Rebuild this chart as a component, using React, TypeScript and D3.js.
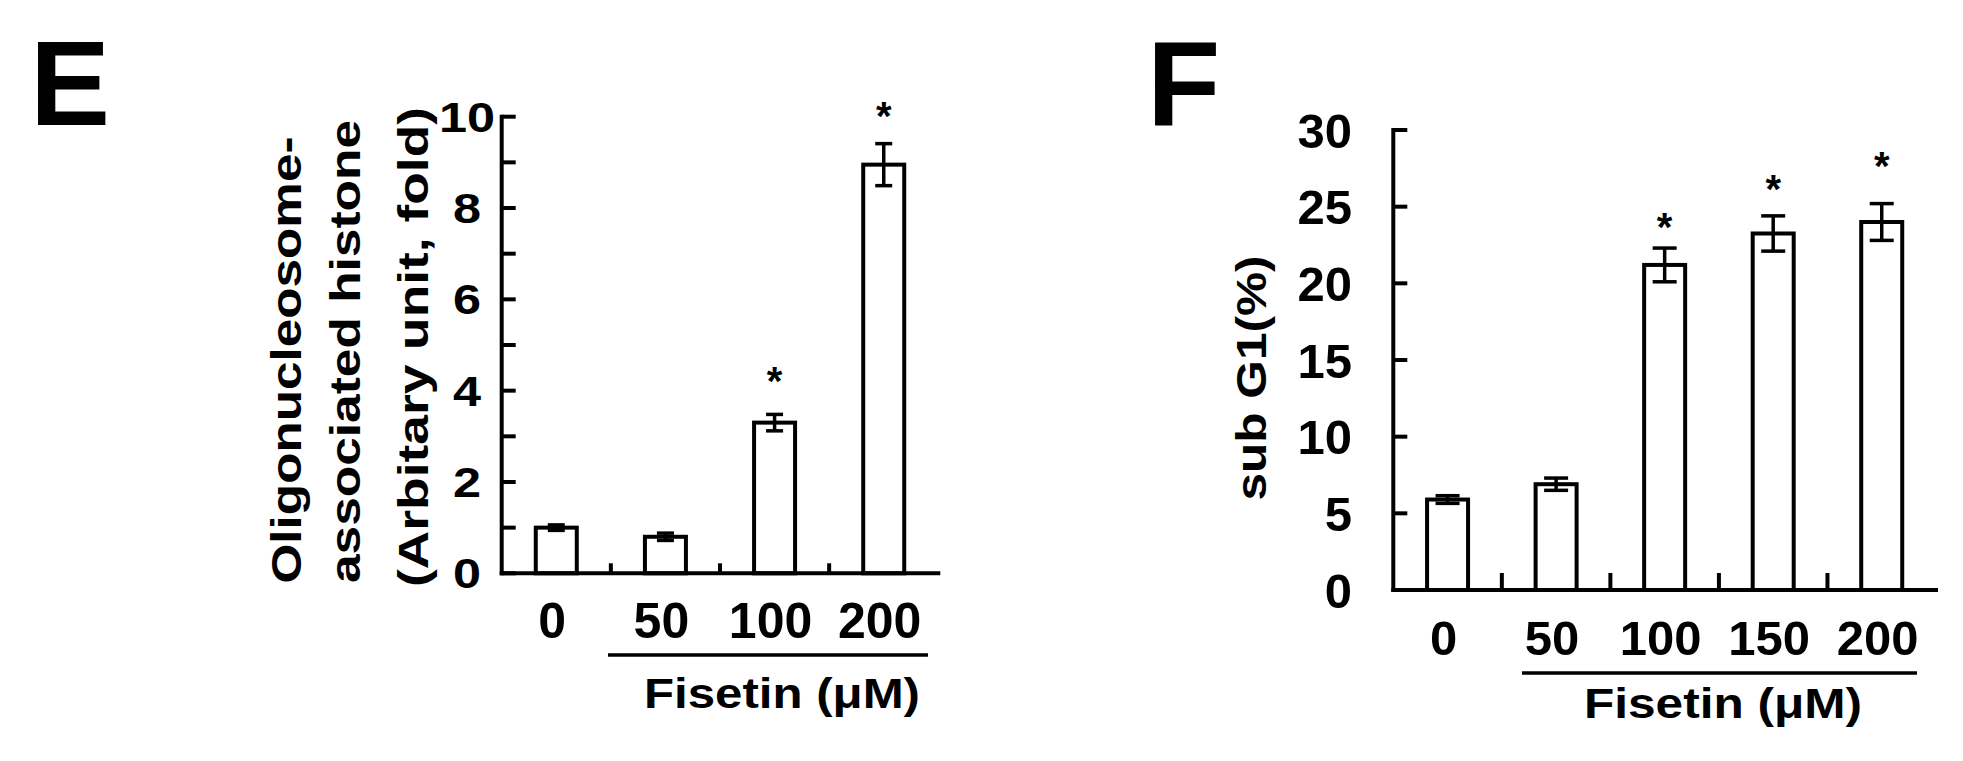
import React from "react";
import * as d3 from "d3";

// ---------- Data ----------
const E_DOSES = ["0", "50", "100", "200"];
const E_VALUES = [1.0, 0.8, 3.3, 8.95];
const E_ERRORS = [0.06, 0.08, 0.18, 0.46];
const E_STARS: (number | null)[] = [null, null, 4.39, 10.19];
const E_YTICKS = [0, 1, 2, 3, 4, 5, 6, 7, 8, 9, 10];
const E_YLABELS = [0, 2, 4, 6, 8, 10];
const E_TITLE = ["Oligonucleosome-", "associated histone", "(Arbitary unit, fold)"];

const F_DOSES = ["0", "50", "100", "150", "200"];
const F_VALUES = [5.9, 6.9, 21.2, 23.25, 24.0];
const F_ERRORS = [0.25, 0.4, 1.1, 1.15, 1.2];
const F_STARS: (number | null)[] = [null, null, 24.2, 26.7, 28.15];
const F_YTICKS = [0, 5, 10, 15, 20, 25, 30];
const F_TITLE = "sub G1(%)";

const X_TITLE = "Fisetin (\u03bcM)";

const FONT = "'Liberation Sans', Arial, Helvetica, sans-serif";

type PanelProps = {
  doses: string[];
  values: number[];
  errors: number[];
  stars: (number | null)[];
  yTicks: number[];
  yLabels: number[];
  yMax: number;
  x0: number;
  x1: number;
  yBase: number;
  yTop: number;
  sepTick: number;
  capW: number;
  yLabel: (v: number, y: number) => React.ReactNode;
  xLabelY: number;
  xLabelSize: number;
};

function Panel(p: PanelProps) {
  const x = d3
    .scaleBand<string>()
    .domain(p.doses)
    .range([p.x0, p.x1])
    .paddingInner(1 - 41 / ((p.x1 - p.x0) / p.doses.length))
    .paddingOuter((1 - 41 / ((p.x1 - p.x0) / p.doses.length)) / 2);
  const y = d3.scaleLinear().domain([0, p.yMax]).range([p.yBase, p.yTop]);
  const step = x.step();
  const bw = x.bandwidth();
  return (
    <g>
      {/* bars */}
      {p.doses.map((d, i) => (
        <rect
          key={"b" + d}
          x={x(d)!}
          y={y(p.values[i])}
          width={bw}
          height={y(0) - y(p.values[i])}
          fill="#fff"
          stroke="#000"
          strokeWidth={4}
        />
      ))}
      {/* error bars */}
      {p.doses.map((d, i) => {
        const cx = x(d)! + bw / 2;
        const hi = y(p.values[i] + p.errors[i]);
        const lo = y(p.values[i] - p.errors[i]);
        return (
          <g key={"e" + d} stroke="#000" strokeWidth={3.5}>
            <line x1={cx} x2={cx} y1={hi} y2={lo} />
            <line x1={cx - p.capW / 2} x2={cx + p.capW / 2} y1={hi} y2={hi} />
            <line x1={cx - p.capW / 2} x2={cx + p.capW / 2} y1={lo} y2={lo} />
          </g>
        );
      })}
      {/* stars */}
      {p.doses.map((d, i) =>
        p.stars[i] == null ? null : (
          <text
            key={"s" + d}
            x={x(d)! + bw / 2}
            y={y(p.stars[i] as number) + 22}
            textAnchor="middle"
            fontFamily={FONT}
            fontWeight="bold"
            fontSize={40}
          >
            *
          </text>
        )
      )}
      {/* axes */}
      <line x1={p.x0} x2={p.x0} y1={y(0)} y2={y(p.yMax)} stroke="#000" strokeWidth={4} strokeLinecap="square" />
      <line x1={p.x0} x2={p.x1} y1={y(0)} y2={y(0)} stroke="#000" strokeWidth={4} strokeLinecap="square" />
      {p.yTicks.map((t) => (
        <line key={"yt" + t} x1={p.x0} x2={p.x0 + 14} y1={y(t)} y2={y(t)} stroke="#000" strokeWidth={4} />
      ))}
      {p.doses.slice(1).map((d, i) => (
        <line
          key={"xs" + d}
          x1={p.x0 + step * (i + 1)}
          x2={p.x0 + step * (i + 1)}
          y1={y(0)}
          y2={y(0) - p.sepTick}
          stroke="#000"
          strokeWidth={4}
        />
      ))}
      {p.yLabels.map((t) => (
        <g key={"yl" + t}>{p.yLabel(t, y(t))}</g>
      ))}
      {p.doses.map((d) => (
        <text
          key={"xl" + d}
          x={x(d)! + bw / 2 - 4}
          y={p.xLabelY}
          textAnchor="middle"
          fontFamily={FONT}
          fontWeight="bold"
          fontSize={p.xLabelSize}
        >
          {d}
        </text>
      ))}
    </g>
  );
}

export default function App() {
  return (
    <svg
      width={1963}
      height={761}
      viewBox="0 0 1963 761"
      style={{ position: "absolute", left: 0, top: 0, display: "block", background: "#fff" }}
    >
      <rect x={0} y={0} width={1963} height={761} fill="#fff" />
      {/* Panel letters */}
      <text x={30} y={125} fontFamily={FONT} fontWeight="bold" fontSize={120}>E</text>
      <text x={1147} y={125} fontFamily={FONT} fontWeight="bold" fontSize={120}>F</text>

      {/* Panel E */}
      <Panel
        doses={E_DOSES}
        values={E_VALUES}
        errors={E_ERRORS}
        stars={E_STARS}
        yTicks={E_YTICKS}
        yLabels={E_YLABELS}
        yMax={10}
        x0={501.7}
        x1={938.3}
        yBase={573.3}
        yTop={116.7}
        sepTick={10}
        capW={17}
        xLabelY={638}
        xLabelSize={50}
        yLabel={(v, yy) => (
          <text
            transform={`translate(467,${yy + 15}) scale(1.2,1)`}
            textAnchor="middle"
            fontFamily={FONT}
            fontWeight="bold"
            fontSize={42}
          >
            {v}
          </text>
        )}
      />
      {E_TITLE.map((s, i) => (
        <text
          key={s}
          transform={`translate(${[301, 360, 428][i]},${[360, 351.5, 347][i]}) rotate(-90)`}
          textAnchor="middle"
          fontFamily={FONT}
          fontWeight="bold"
          fontSize={42}
          textLength={[447, 463, 480][i]}
          lengthAdjust="spacingAndGlyphs"
        >
          {s}
        </text>
      ))}
      <line x1={608} x2={928} y1={655} y2={655} stroke="#000" strokeWidth={3.5} />
      <text
        x={782}
        y={708}
        textAnchor="middle"
        fontFamily={FONT}
        fontWeight="bold"
        fontSize={42}
        textLength={276}
        lengthAdjust="spacingAndGlyphs"
      >
        {X_TITLE}
      </text>

      {/* Panel F */}
      <Panel
        doses={F_DOSES}
        values={F_VALUES}
        errors={F_ERRORS}
        stars={F_STARS}
        yTicks={F_YTICKS}
        yLabels={F_YTICKS}
        yMax={30}
        x0={1393.3}
        x1={1936}
        yBase={590}
        yTop={130}
        sepTick={17}
        capW={24}
        xLabelY={655}
        xLabelSize={49}
        yLabel={(v, yy) => (
          <text
            x={1352}
            y={yy + 17.5}
            textAnchor="end"
            fontFamily={FONT}
            fontWeight="bold"
            fontSize={49}
          >
            {v}
          </text>
        )}
      />
      <text
        transform={`translate(1266,378) rotate(-90)`}
        textAnchor="middle"
        fontFamily={FONT}
        fontWeight="bold"
        fontSize={42}
        textLength={245}
        lengthAdjust="spacingAndGlyphs"
      >
        {F_TITLE}
      </text>
      <line x1={1522} x2={1917} y1={673} y2={673} stroke="#000" strokeWidth={3.5} />
      <text
        x={1723}
        y={718}
        textAnchor="middle"
        fontFamily={FONT}
        fontWeight="bold"
        fontSize={42}
        textLength={278}
        lengthAdjust="spacingAndGlyphs"
      >
        {X_TITLE}
      </text>
    </svg>
  );
}
